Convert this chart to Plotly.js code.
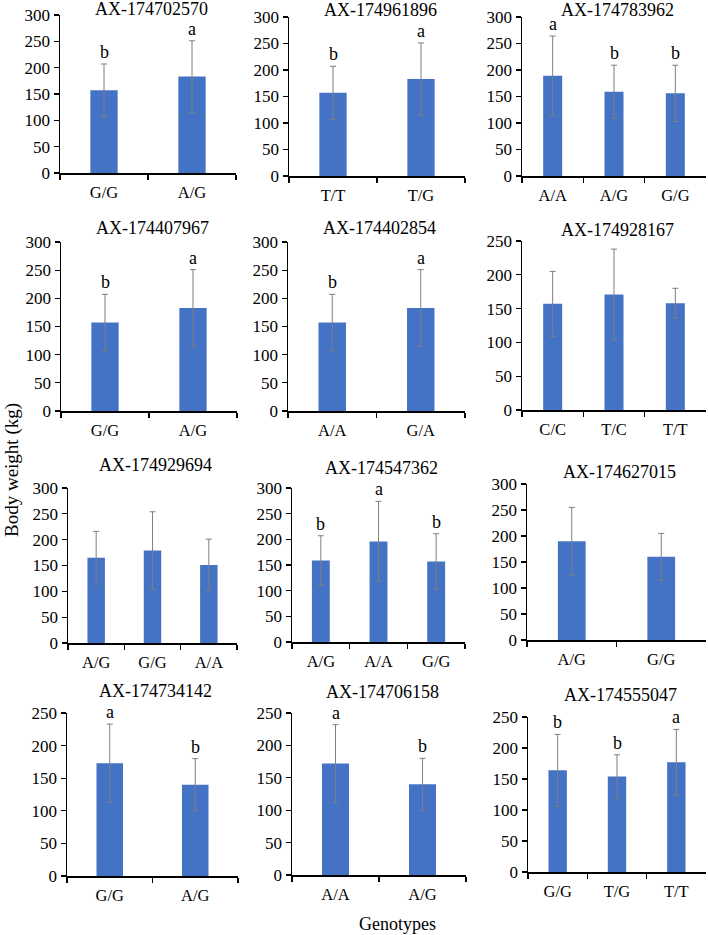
<!DOCTYPE html>
<html>
<head>
<meta charset="utf-8">
<script src="https://cdn.plot.ly/plotly-3.0.1.min.js"></script>
<style>html,body{margin:0;padding:0;background:#fff;}#chart{width:708px;height:935px;}</style>
</head>
<body>
<div id="chart"></div>
<script>
// ---- data ----
const markers = ["AX-174702570","AX-174961896","AX-174783962",
                 "AX-174407967","AX-174402854","AX-174928167",
                 "AX-174929694","AX-174547362","AX-174627015",
                 "AX-174734142","AX-174706158","AX-174555047"];
const genotypes = [["G/G","A/G"],["T/T","T/G"],["A/A","A/G","G/G"],
                   ["G/G","A/G"],["A/A","G/A"],["C/C","T/C","T/T"],
                   ["A/G","G/G","A/A"],["A/G","A/A","G/G"],["A/G","G/G"],
                   ["G/G","A/G"],["A/A","A/G"],["G/G","T/G","T/T"]];
const means = [[157,183],[157,183],[189,159,156],
               [157,183],[157,183],[157,171,158],
               [165,179,151],[159,196,157],[190,160],
               [173,140],[172,140],[164,154,177]];
const sds = [[50,68],[50,68],[75,50,53],
             [50,68],[50,68],[48,67,22],
             [51,75,50],[48,78,54],[65,45],
             [60,40],[60,40],[58,35,53]];
const letters = [["b","a"],["b","a"],["a","b","b"],
                 ["b","a"],["b","a"],[],
                 [],["b","a","b"],[],
                 ["a","b"],["a","b"],["b","b","a"]];
const yMax = [300,300,300,300,300,250,300,300,300,250,250,250];
const yTitle = "Body weight (kg)";
const xTitle = "Genotypes";

// ---- layout geometry (pixels): [x0, x1, yTop, yBottom, titleY] ----
const W = 708, H = 935;
const boxes = [
  [60,236,15,173,9],[289,465,17,176,10],[522,706,17,176,10],
  [61,237,242,411,228],[288,465,242,411,228],[522,706,241,410,230],
  [68,237,488,643,465],[292,465,488,642,468],[527,706,484,640,472],
  [67,238,713,876,691],[292,466,713,875,692],[528,706,717,872,695]
];
const FONT = "Liberation Serif, Times New Roman, serif";
const px = v => v / W;
const py = v => 1 - v / H;

const traces = [];
const layout = {
  width: W, height: H,
  margin: {l:0, r:0, t:0, b:0},
  paper_bgcolor: "#fff", plot_bgcolor: "rgba(0,0,0,0)",
  showlegend: false,
  bargap: 0.69,
  font: {family: FONT, size: 16, color: "#000"},
  annotations: []
};

markers.forEach((m, i) => {
  const k = i === 0 ? "" : String(i + 1);
  const b = boxes[i];
  traces.push({
    type: "bar",
    x: genotypes[i], y: means[i],
    xaxis: "x" + k, yaxis: "y" + k,
    marker: {color: "#4472C4", line: {width: 0}},
    error_y: {type: "data", array: sds[i], visible: true, color: "#7f7f7f", thickness: 1, width: 3},
    hoverinfo: "skip"
  });
  layout["xaxis" + k] = {
    domain: [px(b[0]), px(b[1])], anchor: "y" + k, type: "category",
    showline: true, linecolor: "#000", linewidth: 1.5,
    ticks: "outside", tickson: "boundaries", ticklen: 5, tickcolor: "#000", tickwidth: 1.2,
    ticklabelstandoff: 4,
    showgrid: false, zeroline: false, fixedrange: true,
    tickfont: {family: FONT, size: 16.5, color: "#000"}
  };
  layout["yaxis" + k] = {
    domain: [py(b[3]), py(b[2])], anchor: "x" + k,
    range: [0, yMax[i]], dtick: 50,
    showline: true, linecolor: "#000", linewidth: 1.5,
    ticks: "outside", ticklen: 5, tickcolor: "#000", tickwidth: 1.2,
    showgrid: false, zeroline: false, fixedrange: true,
    tickfont: {family: FONT, size: 17, color: "#000"}
  };
  layout.annotations.push({
    text: m, xref: "paper", yref: "paper",
    x: px((b[0] + b[1]) / 2 + 3), y: py(b[4]),
    xanchor: "center", yanchor: "middle", showarrow: false,
    font: {family: FONT, size: 18, color: "#000"}
  });
  letters[i].forEach((L, j) => {
    layout.annotations.push({
      text: L, xref: "x" + k, yref: "y" + k,
      x: genotypes[i][j], y: means[i][j] + sds[i][j],
      xanchor: "center", yanchor: "bottom", yshift: 0, showarrow: false,
      font: {family: FONT, size: 18, color: "#000"}
    });
  });
});

layout.annotations.push({
  text: yTitle, xref: "paper", yref: "paper", x: px(12), y: py(470),
  xanchor: "center", yanchor: "middle", textangle: -90, showarrow: false,
  font: {family: FONT, size: 19, color: "#000"}
});
layout.annotations.push({
  text: xTitle, xref: "paper", yref: "paper", x: px(397), y: py(924),
  xanchor: "center", yanchor: "middle", showarrow: false,
  font: {family: FONT, size: 18, color: "#000"}
});

Plotly.newPlot("chart", traces, layout, {staticPlot: true, displayModeBar: false});
</script>
</body>
</html>
